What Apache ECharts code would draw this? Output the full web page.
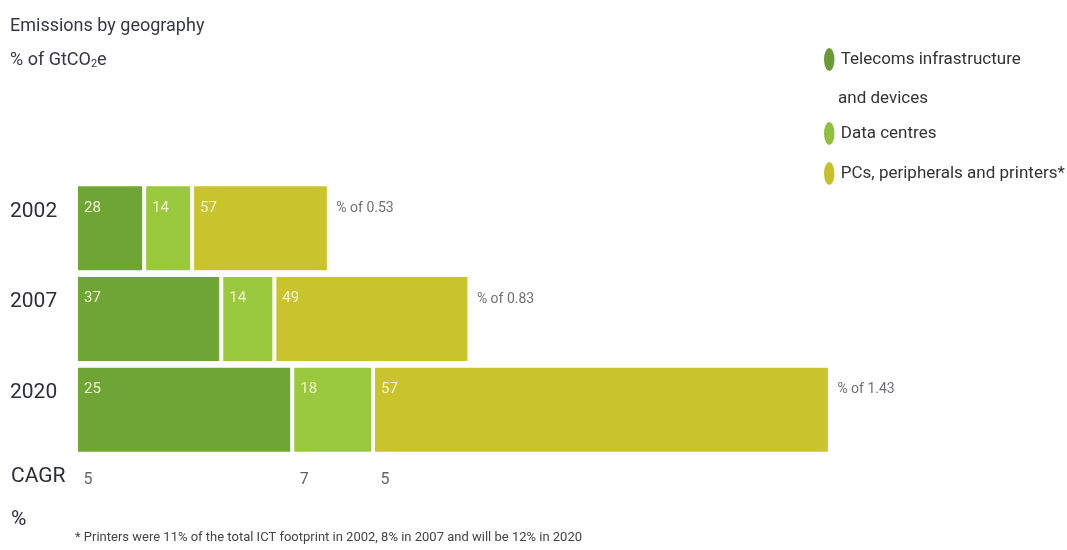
<!DOCTYPE html>
<html lang="en">
<head>
    <meta charset="UTF-8">
    <title>Emissions by geography</title>
    <style>
        html, body { margin: 0; padding: 0; background: #fff; }
        #chart { width: 1067px; height: 550px; }
    </style>
    <script src="https://cdn.jsdelivr.net/npm/echarts@6/dist/echarts.min.js"></script>
</head>
<body>
    <div id="chart"></div>
    <script>
        var years = ['2002', '2007', '2020'];
        var seriesNames = ['Telecoms infrastructure', 'Data centres', 'PCs, peripherals and printers*'];
        // share of each year's total, %
        var telecomsPct = [28, 37, 25];
        var dataCentresPct = [14, 14, 18];
        var pcsPct = [57, 49, 57];
        // bar lengths as drawn (GtCO2e scale)
        var telecomsLen = [0.145, 0.309, 0.460];
        var dataCentresLen = [0.102, 0.113, 0.172];
        var pcsLen = [0.291, 0.415, 0.972];
        var totalLabels = ['0.53', '0.83', '1.43'];
        var cagr = [5, 7, 5];

        var font = "Roboto, 'Liberation Sans', sans-serif";
        var colors = ['#6fa534', '#9bc93e', '#c9c42b'];
        var iconColors = ['#6a9a38', '#8fc03e', '#c8c02a'];
        var leaf = 'path://M5,0 A5,10 0 1,1 5,20 A5,10 0 1,1 5,0 Z';

        function segment(name, len, pct, i) {
            return {
                name: name,
                type: 'bar',
                stack: 'total',
                barWidth: 88,
                data: len,
                itemStyle: { color: colors[i], borderColor: '#fff', borderWidth: 2 },
                label: {
                    show: true,
                    position: 'insideTopLeft',
                    offset: [3, 11],
                    color: '#f0f3cf',
                    fontSize: 15,
                    fontFamily: font,
                    formatter: function (p) { return pct[p.dataIndex]; }
                },
                emphasis: { disabled: true }
            };
        }

        var totalPoints = years.map(function (y, i) {
            return [telecomsLen[i] + dataCentresLen[i] + pcsLen[i], y];
        });
        var cagrPoints = [
            [0, '2020'],
            [telecomsLen[2], '2020'],
            [telecomsLen[2] + dataCentresLen[2], '2020']
        ];

        var chart = echarts.init(document.getElementById('chart'));
        chart.setOption({
            animation: false,
            title: {
                left: 5,
                top: 4,
                text: 'Emissions by geography\n% of GtCO{sub|2}e',
                textStyle: {
                    fontFamily: font,
                    fontWeight: 'normal',
                    fontSize: 18,
                    lineHeight: 34,
                    color: '#363646',
                    rich: {
                        sub: { fontFamily: font, fontSize: 11, color: '#363646', padding: [9, 0, 0, 0] }
                    }
                }
            },
            legend: [{
                data: [seriesNames[0]],
                orient: 'vertical',
                left: 817,
                top: 41,
                itemWidth: 13,
                itemHeight: 25,
                icon: leaf,
                textStyle: { fontFamily: font, fontSize: 17, color: '#333' },
                itemStyle: { color: iconColors[0] }
            }, {
                data: [
                    { name: seriesNames[1], itemStyle: { color: iconColors[1] } },
                    { name: seriesNames[2], itemStyle: { color: iconColors[2] } }
                ],
                orient: 'vertical',
                left: 817,
                top: 115,
                itemGap: 13,
                itemWidth: 13,
                itemHeight: 25,
                icon: leaf,
                textStyle: { fontFamily: font, fontSize: 17, color: '#333' }
            }],
            grid: {
                left: 76,
                top: 183,
                width: 940,
                height: 272,
                outerBoundsMode: 'none'
            },
            xAxis: {
                type: 'value',
                min: 0,
                max: 2,
                show: false
            },
            yAxis: {
                type: 'category',
                inverse: true,
                data: years,
                axisLine: { show: false },
                axisTick: { show: false },
                axisLabel: {
                    align: 'left',
                    verticalAlign: 'bottom',
                    lineHeight: 34,
                    margin: 66,
                    fontSize: 21,
                    fontFamily: font,
                    color: '#2e2e3a'
                }
            },
            graphic: [
                { type: 'text', left: 838, top: 90, style: { text: 'and devices', font: '17px ' + font, fill: '#333' } },
                { type: 'text', left: 11, top: 466, style: { text: 'CAGR', font: '21px ' + font, fill: '#2e2e3a' } },
                { type: 'text', left: 11, top: 509, style: { text: '%', font: '21px ' + font, fill: '#2e2e3a' } },
                { type: 'text', left: 75, top: 531, style: { text: '* Printers were 11% of the total ICT footprint in 2002, 8% in 2007 and will be 12% in 2020', font: '13px ' + font, fill: '#444' } }
            ],
            series: [
                segment(seriesNames[0], telecomsLen, telecomsPct, 0),
                segment(seriesNames[1], dataCentresLen, dataCentresPct, 1),
                segment(seriesNames[2], pcsLen, pcsPct, 2),
                {
                    type: 'scatter',
                    data: totalPoints,
                    symbolSize: 1,
                    clip: false,
                    silent: true,
                    itemStyle: { color: 'rgba(0,0,0,0)' },
                    label: {
                        show: true,
                        position: 'right',
                        distance: 0,
                        offset: [7, -20],
                        color: '#4a4a52',
                        fontSize: 14,
                        fontFamily: font,
                        formatter: function (p) { return '% of ' + totalLabels[p.dataIndex]; }
                    }
                },
                {
                    type: 'scatter',
                    data: cagrPoints,
                    symbolSize: 1,
                    clip: false,
                    silent: true,
                    itemStyle: { color: 'rgba(0,0,0,0)' },
                    label: {
                        show: true,
                        position: 'right',
                        distance: 0,
                        offset: [7, 70],
                        color: '#3a3a44',
                        fontSize: 16,
                        fontFamily: font,
                        formatter: function (p) { return cagr[p.dataIndex]; }
                    }
                }
            ]
        });
    </script>
</body>
</html>
